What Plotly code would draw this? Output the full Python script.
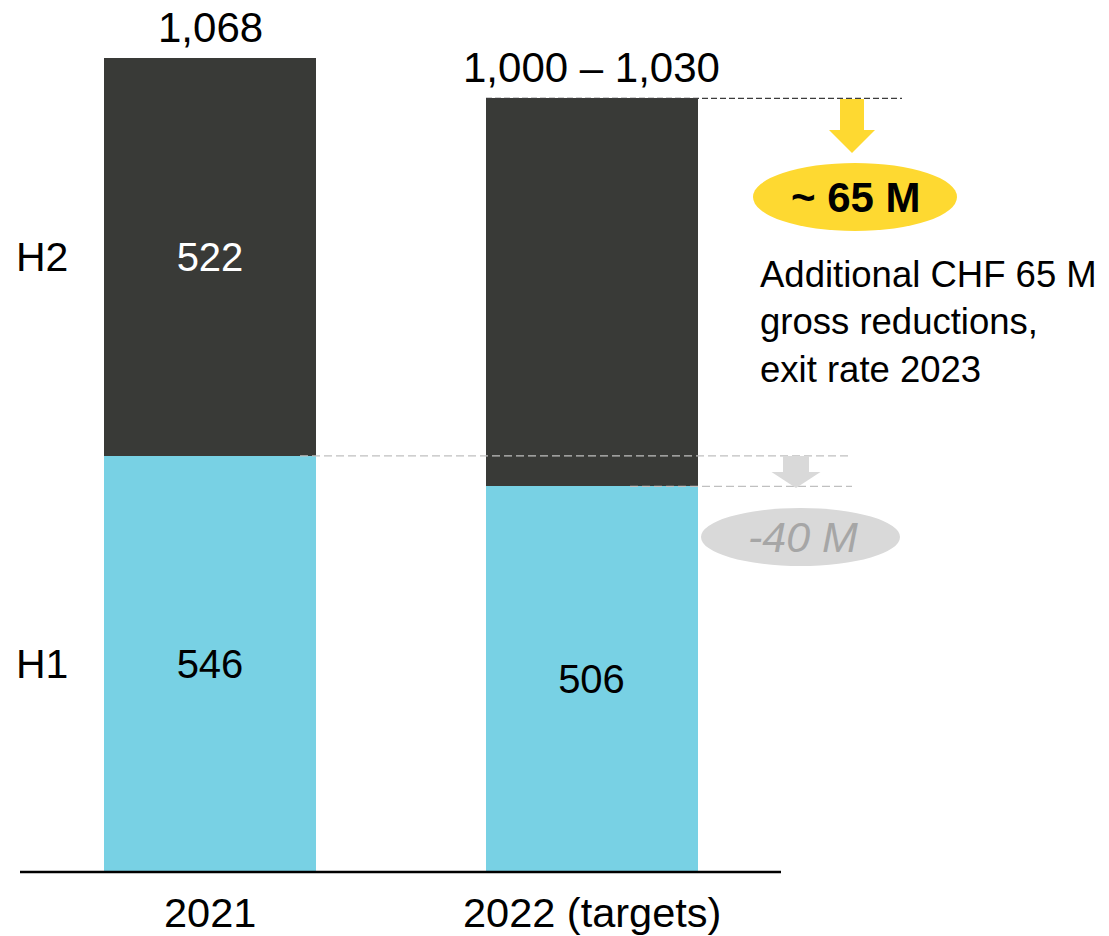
import plotly.graph_objects as go

# --- data -------------------------------------------------------------
categories = ["2021", "2022 (targets)"]
h1_values = [546, 506]
h2_values = [522, 509]
h2_labels = ["522", ""]
total_labels = ["1,068", "1,000 – 1,030"]
series_names = ["H1", "H2"]
reduction_target = "~ 65 M"
h1_change = "-40 M"
note_lines = ["Additional CHF 65 M", "gross reductions,", "exit rate 2023"]

# --- geometry helpers ---------------------------------------------------
W, H = 1109, 936
BASE_PX = 872          # pixel row of the zero line
PX_PER_UNIT = 0.7622   # vertical scale
X0_PX, X_STEP = 210, 381.5
Y_MIN = (BASE_PX - H) / PX_PER_UNIT
Y_MAX = BASE_PX / PX_PER_UNIT


def xd(px):
    """pixel column -> x data coordinate"""
    return (px - X0_PX) / X_STEP


def yd(py):
    """pixel row -> y data coordinate"""
    return (BASE_PX - py) / PX_PER_UNIT


FONT = "Liberation Sans, Arial, sans-serif"
DARK = "#393a37"
BLUE = "#78d1e4"
YELLOW = "#fed931"
GREY = "#d9d9d9"

xs = list(range(len(categories)))
totals = [a + b for a, b in zip(h1_values, h2_values)]
bar_w = 212 / X_STEP

fig = go.Figure()
fig.add_bar(
    x=xs, y=h1_values, width=bar_w, name=series_names[0],
    marker=dict(color=BLUE, line=dict(width=0)),
    text=[str(v) for v in h1_values], textposition="inside",
    insidetextanchor="middle", constraintext="none",
    textfont=dict(family=FONT, size=40, color="#000000"),
    hoverinfo="skip",
)
fig.add_bar(
    x=xs, y=h2_values, width=bar_w, name=series_names[1],
    marker=dict(color=DARK, line=dict(width=0)),
    text=h2_labels, textposition="inside",
    insidetextanchor="middle", constraintext="none",
    textfont=dict(family=FONT, size=40, color="#ffffff"),
    hoverinfo="skip",
)

ann = []
# totals above each stack
for x, t, lbl in zip(xs, totals, total_labels):
    ann.append(dict(x=x, y=t, text=lbl, showarrow=False, yanchor="bottom",
                    yshift=5, font=dict(family=FONT, size=42, color="#000")))
# category labels under the baseline
for x, c in zip(xs, categories):
    ann.append(dict(x=x, y=0, text=c, showarrow=False, yanchor="top",
                    yshift=-16, borderpad=0,
                    font=dict(family=FONT, size=41.5, color="#000")))
# series labels at the left, level with the 2021 segments
seg_mid = [h1_values[0] / 2, h1_values[0] + h2_values[0] / 2]
for name, ym in zip(series_names, seg_mid):
    ann.append(dict(x=xd(14), y=ym, text=name, showarrow=False,
                    xanchor="left", yanchor="middle",
                    font=dict(family=FONT, size=41, color="#000")))

# yellow callout
ann.append(dict(x=xd(856), y=yd(197), text="<b>" + reduction_target + "</b>",
                showarrow=False, xanchor="center", yanchor="middle",
                font=dict(family=FONT, size=42, color="#000")))
# grey callout
ann.append(dict(x=xd(803), y=yd(537), text="<i>" + h1_change + "</i>",
                showarrow=False, xanchor="center", yanchor="middle",
                font=dict(family=FONT, size=43, color="#a6a6a6")))
# note text
for i, line in enumerate(note_lines):
    ann.append(dict(x=xd(758), y=yd(274 + 47.5 * i), text=line,
                    showarrow=False, xanchor="left", yanchor="middle",
                    font=dict(family=FONT, size=36.5, color="#000")))

shapes = []
# baseline
shapes.append(dict(type="line", xref="x", yref="y", x0=xd(20), x1=xd(781),
                   y0=0, y1=0, line=dict(color="#000", width=2.5)))
# dashed reference lines
shapes.append(dict(type="line", xref="x", yref="y", x0=xd(486), x1=xd(902),
                   y0=totals[1], y1=totals[1],
                   line=dict(color="#3c3c3c", width=1.2, dash="6px,3px")))
shapes.append(dict(type="line", xref="x", yref="y", x0=xd(300), x1=xd(852),
                   y0=h1_values[0], y1=h1_values[0],
                   line=dict(color="#c0c0c0", width=1.2, dash="8px,4px")))
shapes.append(dict(type="line", xref="x", yref="y", x0=xd(630), x1=xd(852),
                   y0=h1_values[1], y1=h1_values[1],
                   line=dict(color="#c0c0c0", width=1.2, dash="8px,4px")))


def arrow_path(cx, top, shaft_half, head_half, neck, tip):
    pts = [(cx - shaft_half, top), (cx + shaft_half, top), (cx + shaft_half, neck),
           (cx + head_half, neck), (cx, tip), (cx - head_half, neck),
           (cx - shaft_half, neck)]
    return "M " + " L ".join(f"{xd(a):.5f},{yd(b):.3f}" for a, b in pts) + " Z"


shapes.append(dict(type="path", xref="x", yref="y",
                   path=arrow_path(852, 99, 12, 23, 130, 153),
                   fillcolor=YELLOW, line=dict(width=0)))
shapes.append(dict(type="path", xref="x", yref="y",
                   path=arrow_path(796, 456, 13, 24.5, 472, 488),
                   fillcolor=GREY, line=dict(width=0)))
# ellipses
shapes.append(dict(type="circle", xref="x", yref="y", x0=xd(753), x1=xd(957),
                   y0=yd(231), y1=yd(163), fillcolor=YELLOW, line=dict(width=0),
                   layer="below"))
shapes.append(dict(type="circle", xref="x", yref="y", x0=xd(701), x1=xd(900),
                   y0=yd(566), y1=yd(508), fillcolor=GREY, line=dict(width=0),
                   layer="below"))

fig.update_layout(
    width=W, height=H, barmode="stack", showlegend=False,
    margin=dict(l=0, r=0, t=0, b=0),
    paper_bgcolor="white", plot_bgcolor="white",
    xaxis=dict(range=[xd(0), xd(W)], visible=False, fixedrange=True),
    yaxis=dict(range=[Y_MIN, Y_MAX], visible=False, fixedrange=True),
    annotations=ann, shapes=shapes,
    font=dict(family=FONT),
)

fig.write_html("out.html")
